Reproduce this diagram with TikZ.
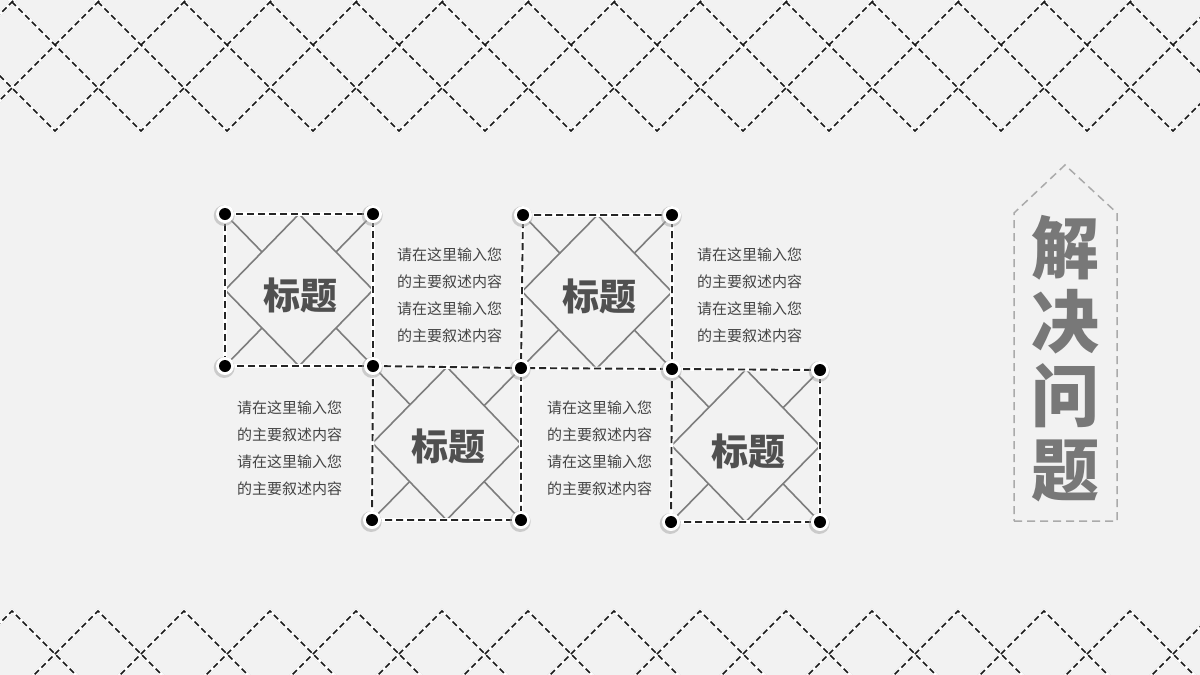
\documentclass[tikz,border=0pt]{standalone}
\usepackage{fontspec}
\newfontfamily\cjk{Noto Sans CJK SC}
\usetikzlibrary{calc}
\definecolor{bgc}{RGB}{242,242,242}
\definecolor{inn}{RGB}{125,125,125}
\definecolor{bodyc}{RGB}{68,68,68}
\definecolor{ttlc}{RGB}{80,80,80}
\definecolor{bigc}{RGB}{120,120,120}
\definecolor{lblc}{RGB}{170,170,170}
% inner lines of a box: tl tr br bl
\newcommand\myInnerPat[4]{%
  \draw[inner] ($(#1)!0.5!(#2)$) -- ($(#2)!0.5!(#3)$) -- ($(#3)!0.5!(#4)$) -- ($(#4)!0.5!(#1)$) -- cycle;
  \draw[inner] (#1) -- ($(#1)!0.25!(#3)$);
  \draw[inner] (#2) -- ($(#2)!0.25!(#4)$);
  \draw[inner] (#3) -- ($(#3)!0.25!(#1)$);
  \draw[inner] (#4) -- ($(#4)!0.25!(#2)$);
}
\newcommand\myFrame[4]{%
  \draw[boxhalo] (#1) -- (#2) -- (#3) -- (#4) -- cycle;
  \draw[boxedge] (#1) -- (#2) -- (#3) -- (#4) -- cycle;
}
\begin{document}
\begin{tikzpicture}[x=1pt,y=-1pt,
  patshadow/.style={black!30, line width=3.6pt, opacity=0.45},
  pathalo/.style={white, line width=3.2pt},
  pat/.style={black!90, line width=1.5pt, dash pattern=on 6pt off 3.5pt},
  inner/.style={inn, line width=1.6pt},
  boxhalo/.style={white, line width=3.6pt},
  boxedge/.style={black!85, line width=1.9pt, dash pattern=on 7pt off 4pt},
  body/.style={font=\cjk\fontsize{15}{27}\selectfont, text=bodyc, align=left, inner sep=0pt},
  ttl/.style={font=\cjk\bfseries\fontsize{37}{40}\selectfont, text=ttlc, inner sep=0pt},
  lbl/.style={lblc, line width=1.5pt, dash pattern=on 8pt off 5pt},
]
\fill[bgc] (0,0) rectangle (1200,675);
\useasboundingbox (0,0) rectangle (1200,675);

% ---------- lattice patterns ----------
\begin{scope}
\clip (0,0) rectangle (1200,675);
\foreach \st in {patshadow,pathalo,pat}{
  \foreach \k in {-2,...,14}{
    \pgfmathsetmacro\bx{55+86*\k}
    \draw[\st] (\bx-136,-5) -- (\bx,131) -- (\bx+136,-5);
    \pgfmathsetmacro\tx{12+86*\k}
    \draw[\st] (\tx-70,681) -- (\tx,611) -- (\tx+70,681);
  }
}
\end{scope}

% ---------- corner points ----------
\coordinate (P1) at (225,214);
\coordinate (P2) at (373,214);
\coordinate (P3) at (225,366);
\coordinate (P4) at (373,366);
\coordinate (P5) at (521,368);
\coordinate (P6) at (372,520);
\coordinate (P7) at (521,520);
\coordinate (P8) at (523,215);
\coordinate (P9) at (672,215);
\coordinate (P10) at (672,369);
\coordinate (P11) at (820,370);
\coordinate (P12) at (671,522);
\coordinate (P13) at (820,522);

\myInnerPat{P1}{P2}{P4}{P3}
\myInnerPat{P4}{P5}{P7}{P6}
\myInnerPat{P8}{P9}{P10}{P5}
\myInnerPat{P10}{P11}{P13}{P12}
\myFrame{P1}{P2}{P4}{P3}
\myFrame{P4}{P5}{P7}{P6}
\myFrame{P8}{P9}{P10}{P5}
\myFrame{P10}{P11}{P13}{P12}

% dots
\foreach \p in {P1,P2,P3,P4,P5,P6,P7,P8,P9,P10,P11,P12,P13}{
  \fill[black!35, opacity=0.5] ($(\p)+(-0.8,1.5)$) circle (10.5pt);
  \fill[white] (\p) circle (9pt);
  \fill[black] (\p) circle (6pt);
}

% titles
\node[ttl] (t1) at ($(P1)!0.5!(P4)+(1,5)$) {标题};
\node[ttl] (t2) at ($(P4)!0.5!(P7)+(1,3)$) {标题};
\node[ttl] (t3) at ($(P8)!0.5!(P10)+(2,4)$) {标题};
\node[ttl] (t4) at ($(P10)!0.5!(P13)+(2,6)$) {标题};

% body texts
\node[body, anchor=west] (bA) at (397,295.5) {请在这里输入您\\的主要叙述内容\\请在这里输入您\\的主要叙述内容};
\node[body, anchor=west] (bB) at (697,295.5) {请在这里输入您\\的主要叙述内容\\请在这里输入您\\的主要叙述内容};
\node[body, anchor=west] (bC) at (237,448.5) {请在这里输入您\\的主要叙述内容\\请在这里输入您\\的主要叙述内容};
\node[body, anchor=west] (bD) at (547,448.5) {请在这里输入您\\的主要叙述内容\\请在这里输入您\\的主要叙述内容};

% right label
\coordinate (L1) at (1014,521);
\coordinate (L2) at (1117,521);
\coordinate (L3) at (1117,213);
\coordinate (L4) at (1065,165);
\coordinate (L5) at (1014,213);
\draw[lbl] (L1) -- (L2) -- (L3) -- (L4) -- (L5) -- cycle;
\node[font=\cjk\bfseries\fontsize{68}{74}\selectfont, text=bigc, align=center, inner sep=0pt] (big) at (1065,359) {解\\决\\问\\题};
\end{tikzpicture}
\end{document}
